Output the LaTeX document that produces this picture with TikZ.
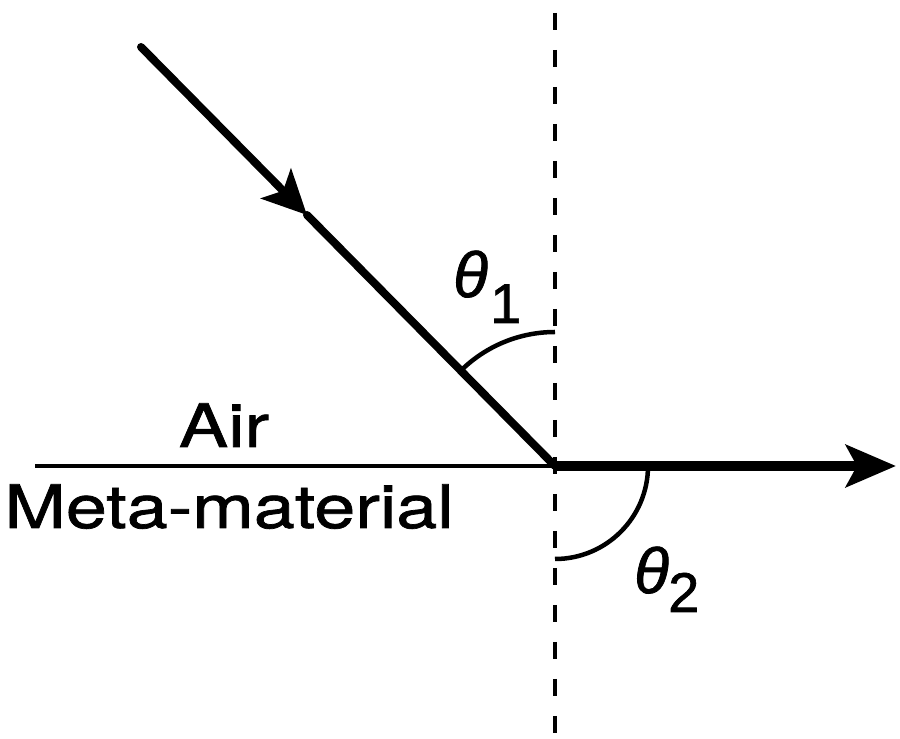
\documentclass[tikz,border=0pt]{standalone}
\usepackage{fontspec}
\setmainfont{TeX Gyre Heros}
\newfontfamily\labfont[FakeStretch=1.23,FakeBold=1.2]{TeX Gyre Heros}
\newfontfamily\thfont[FakeBold=1.2]{Liberation Sans}
\usetikzlibrary{arrows.meta}
\begin{document}
\begin{tikzpicture}[x=1pt,y=1pt,
  ray/.style={line width=8pt, line cap=round},
  iface/.style={line width=4.5pt},
  outray/.style={line width=10pt},
  normalline/.style={line width=4.5pt, dash pattern=on 17pt off 20pt, dash phase=24pt},
  anglearc/.style={line width=4.5pt},
  lab/.style={inner sep=0pt, font=\labfont\fontsize{60}{72}\selectfont},
  th/.style={inner sep=0pt, font=\thfont\itshape\fontsize{64}{76}\selectfont},
  sub/.style={inner sep=0pt, font=\thfont\fontsize{56}{66}\selectfont}]
\useasboundingbox (0,0) rectangle (900,739);
\coordinate (O) at (555,273);
\coordinate (S) at (141,692);
\coordinate (M) at (307,524);
\coordinate (L) at (35,273);
\coordinate (R) at (896,273);
\coordinate (Ntop) at (555,739);
\coordinate (Nbot) at (555,0);
\coordinate (A1) at (555,407);
\coordinate (A2) at (648,273);
% normal
\draw[normalline] (Ntop) -- (Nbot);
% interface
\draw[iface] (L) -- (O);
% incident ray
\draw[ray, -{Stealth[length=44pt,width=42pt,inset=10pt]}] (S) -- (M);
\draw[ray] (M) -- (O);
% refracted ray
\draw[outray, -{Stealth[length=50pt,width=42pt,inset=11pt]}] (O) -- (R);
% angle arcs
\draw[anglearc] (A1) arc[start angle=90, end angle=135, radius=134];
\draw[anglearc] (A2) arc[start angle=0, end angle=-90, radius=93];
% labels
\node[lab, anchor=base] (air) at (224,292) {Air};
\node[lab, anchor=base] (meta) at (229,211) {Meta-material};
\node[th, anchor=base west] (t1) at (453,442) {θ};
\node[sub, anchor=base west] (s1) at (490,416) {1};
\node[th, anchor=base west] (t2) at (634,146) {θ};
\node[sub, anchor=base west] (s2) at (668,127) {2};
\end{tikzpicture}
\end{document}
